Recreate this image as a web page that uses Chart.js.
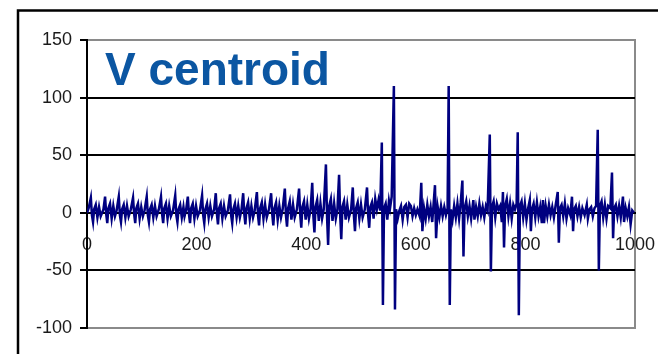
<!DOCTYPE html>
<html>
<head>
<meta charset="utf-8">
<script src="https://cdn.jsdelivr.net/npm/chart.js@4"></script>
<style>
  html, body { margin: 0; padding: 0; background: #fff; }
  #wrap { width: 658px; height: 354px; position: relative; }
</style>
</head>
<body>
<div id="wrap"><canvas id="chart" width="658" height="354"></canvas></div>
<script>
'use strict';

// Chart labels
const chartTitle = 'V centroid';
const xTicks = [0, 200, 400, 600, 800, 1000];
const yTicks = [-100, -50, 0, 50, 100, 150];

// [frame, V centroid] samples
const cyclesEarly = [
    [0, 0], [3, 4],
    [7, 13], [9, -2], [11, -8], [13, 3], [16, 7], [19, -4], [22, 5], [25, -3], [30, 3],
    [33, 14], [35, -1], [37, -9], [39, 4], [42, 8], [45, -5], [48, 6], [51, -3], [54, 2],
    [58, 14], [60, -2], [62, -8], [64, 3], [67, 7], [70, -4], [73, 6], [76, -3], [80, 3],
    [84, 13], [86, -1], [88, -9], [90, 4], [93, 8], [96, -5], [99, 5], [102, -3], [105, 2],
    [109, 14], [111, -2], [113, -8], [115, 3], [118, 7], [121, -4], [124, 6], [127, -3], [131, 3],
    [135, 14], [137, -1], [139, -9], [141, 4], [144, 8], [147, -5], [150, 6], [153, -3], [157, 2],
    [161, 15], [163, -2], [165, -8], [167, 3], [170, 7], [173, -4], [176, 5], [178, -3], [181, 3],
    [184, 14], [186, -1], [188, -9], [190, 4], [193, 8], [196, -5], [199, 6], [202, -3], [206, 2],
    [210, 15], [212, -2], [214, -9], [216, 3], [219, 8], [222, -4], [225, 6], [228, -3], [232, 3],
    [235, 17], [237, -1], [239, -10], [241, 4], [244, 8], [247, -5], [250, 6], [253, -3], [257, 2],
    [261, 16], [263, -2], [265, -9], [267, 3], [270, 8], [273, -4], [276, 6], [279, -4], [282, 3],
    [285, 17], [287, -1], [289, -10], [291, 4], [294, 9], [297, -5], [300, 6], [303, -4], [306, 2],
    [310, 18], [312, -2], [314, -11], [316, 4], [319, 9], [322, -5], [325, 7], [328, -4], [332, 3],
    [336, 17], [338, -1], [340, -11], [342, 4], [345, 9], [348, -6], [351, 6], [354, -4], [357, 3],
    [361, 21], [363, -2], [365, -12], [367, 4], [370, 10], [373, -6], [376, 7], [379, -4], [383, 3],
    [387, 21], [389, -1], [391, -13], [393, 5], [396, 10], [399, -6], [402, 7], [405, -5], [408, 3],
    [411, 26], [413, -2], [415, -17], [417, 5], [420, 11], [423, -7], [426, 8], [429, -5], [432, 3],
    [436, 42], [438, -3], [440, -28], [442, 6], [445, 12], [448, -7], [451, 8], [454, -5], [457, 3],
    [460, 33], [462, -2], [464, -23], [466, 5], [469, 10], [472, -6], [475, 7], [478, -4], [482, 3],
    [485, 22], [487, -2], [489, -16], [491, 4], [494, 9], [497, -5], [500, 7], [503, -4], [507, 3],
    [511, 22], [513, -2], [515, -13], [517, 5], [520, 9], [523, -5], [526, 12], [529, 3], [532, 11], [535, 2]
];

const burstMid = [
    [538, 61], [540, -80], [542, 4], [545, 8], [548, -6], [551, 10], [553, 4], [556, 14],
    [560, 110], [562, -84], [564, 3], [567, -5], [570, 2], [573, 6], [576, -6], [579, 5],
    [582, 7], [585, -4], [588, 8], [591, 6], [594, -3], [597, 4], [600, -2], [603, 3], [607, -3],
    [610, 26], [612, -16], [615, 4], [618, -5], [621, 7], [624, -3], [627, 5], [630, -8],
    [635, 24], [637, -22], [640, 5], [643, -4], [646, 6], [649, -3], [652, 5], [655, -2], [658, 4],
    [660, 110], [662, -80], [664, 3], [667, -6], [670, 6], [673, -4], [676, 8], [679, -5], [682, 9],
    [685, 28], [687, -38], [689, 4], [692, 10], [695, -3], [698, 6], [701, -5], [705, 11], [707, -6],
    [710, 5], [713, -3], [716, 8], [719, -2], [722, 5], [725, -4], [728, 6], [731, 2]
];

const burstLate = [
    [735, 68], [737, -51], [739, 5], [742, 10], [745, -4], [748, 8], [751, 3], [754, 6], [757, -8],
    [759, 18], [761, -30], [763, 6], [766, 12], [769, -3], [772, 8], [775, -5], [778, 7], [781, 3], [784, 8],
    [786, 70], [788, -89], [790, 6], [793, 10], [796, -4], [799, 8], [802, -6], [805, 4],
    [808, 11], [810, -16], [812, 3], [815, 8], [818, -4], [821, 9], [824, -3], [827, 5], [830, -9],
    [832, 11], [834, -9], [837, 6], [840, -3], [843, 7], [846, -2], [849, 5], [852, -4], [855, 6],
    [859, 18], [861, -26], [863, 4], [866, 7], [869, -3], [872, 8], [875, -5], [878, 4], [882, -2],
    [885, 14], [887, -16], [889, 3], [892, 6], [895, -3], [898, 5], [901, -4], [904, 4], [908, -2],
    [912, 7], [914, -5], [917, 3], [920, 5], [923, -3], [926, 4], [929, 6],
    [932, 72], [934, -50], [936, 6], [939, 10], [942, -4], [945, 7], [948, -5], [951, 6], [955, 4],
    [958, 35], [960, -22], [962, 4], [965, 7], [968, -3], [971, 6], [974, -4],
    [978, 14], [980, -8], [983, 4], [986, -3], [989, 5], [992, -10], [995, 2], [998, 0]
];

const samples = cyclesEarly.concat(burstMid, burstLate).map((p) => ({ x: p[0], y: p[1] }));

const fontFamily = "'Liberation Sans', Arial, sans-serif";

// Outer frame, plot border and the title drawn inside the plot
const framePlugin = {
    id: 'frame',
    beforeDraw: function (chart) {
        const ctx = chart.ctx;
        const area = chart.chartArea;
        ctx.save();
        ctx.strokeStyle = '#000';
        ctx.lineWidth = 2.5;
        ctx.strokeRect(18, 10.5, 700, 400);
        ctx.strokeStyle = '#8a8a8a';
        ctx.lineWidth = 2;
        ctx.strokeRect(area.left, area.top, area.right - area.left, area.bottom - area.top);
        ctx.restore();
    },
    afterDraw: function (chart) {
        const ctx = chart.ctx;
        ctx.save();
        ctx.fillStyle = '#0b56a2';
        ctx.font = 'bold 46px ' + fontFamily;
        ctx.textBaseline = 'alphabetic';
        ctx.fillText(chartTitle, 105, 85);
        ctx.restore();
    }
};

const ctx = document.getElementById('chart').getContext('2d');
const chart = new Chart(ctx, {
    type: 'line',
    data: {
        datasets: [{
            label: chartTitle,
            data: samples,
            borderColor: '#000080',
            borderWidth: 2.5,
            pointRadius: 0,
            tension: 0,
            fill: false
        }]
    },
    options: {
        responsive: false,
        animation: false,
        layout: { padding: { left: 0, top: 40, right: 23, bottom: 26 } },
        plugins: {
            legend: { display: false },
            tooltip: { enabled: false }
        },
        scales: {
            x: {
                type: 'linear',
                position: { y: 0 },
                min: 0,
                max: 1000,
                afterBuildTicks: function (scale) {
                    scale.ticks = xTicks.map((v) => ({ value: v }));
                },
                afterFit: function (scale) {
                    scale.paddingLeft = 0;
                    scale.paddingRight = 0;
                },
                grid: { display: false, drawTicks: false },
                border: { display: true, color: '#000', width: 2 },
                ticks: {
                    padding: 21,
                    color: '#1a1a1a',
                    font: { family: fontFamily, size: 18 },
                    maxRotation: 0,
                    callback: function (value) {
                        return String(value);
                    }
                }
            },
            y: {
                min: -100,
                max: 150,
                afterBuildTicks: function (scale) {
                    scale.ticks = yTicks.map((v) => ({ value: v }));
                },
                afterFit: function (scale) {
                    scale.width = 87;
                },
                grid: {
                    color: function (c) {
                        const v = c.tick ? c.tick.value : 0;
                        return (v === 150 || v === -100) ? '#8a8a8a' : '#000';
                    },
                    lineWidth: 2,
                    drawTicks: true,
                    tickLength: 7,
                    tickColor: '#000'
                },
                border: { display: true, color: '#000', width: 2 },
                ticks: {
                    padding: 8,
                    color: '#1a1a1a',
                    font: { family: fontFamily, size: 18 }
                }
            }
        }
    },
    plugins: [framePlugin]
});
</script>
</body>
</html>
